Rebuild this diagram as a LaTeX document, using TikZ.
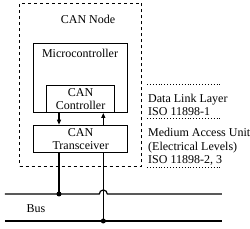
\documentclass[tikz,border=0pt]{standalone}
\usepackage{fontspec}
\setmainfont{Liberation Serif}
\usetikzlibrary{arrows.meta,positioning,calc}

\begin{document}
\begin{tikzpicture}[
    x=1pt, y=1pt,
    font=\fontsize{12}{13.5}\selectfont,
    frame/.style={
        rectangle,
        draw,
        dashed,
        line width=1.1pt,
        inner sep=0pt
    },
    box/.style={
        rectangle,
        draw,
        line width=1.3pt,
        align=center,
        inner sep=0pt
    },
    arr/.style={
        -{Triangle[length=5pt,width=4pt]},
        line width=1.2pt
    },
    bus/.style={
        line width=1.2pt
    },
    dot/.style={
        circle,
        fill,
        inner sep=0pt,
        minimum size=5pt
    },
    sep/.style={
        dotted,
        line width=0.9pt
    },
    layer/.style={
        anchor=south west,
        align=left,
        inner sep=1pt
    }
]
\useasboundingbox (0,0) rectangle (250,229);

% CAN node frame
\node[frame, minimum width=122pt, minimum height=163pt, anchor=south west] (cannode) at (19,62) {};
\node (nodelabel) at (88,210) {CAN Node};

% Microcontroller with CAN controller
\node[box, minimum width=94pt, minimum height=69pt, anchor=south west] (mcu) at (33,116) {};
\node (mculabel) at (80,176) {Microcontroller};
\node[box, minimum width=68pt, minimum height=27pt, anchor=south west] (ctrl) at (46,116) {CAN\\Controller};

% Transceiver
\node[box, minimum width=94pt, minimum height=27pt, anchor=south west] (trx) at (33,76) {CAN\\Transceiver};

% TX / RX
\coordinate (tx) at ([xshift=13pt]ctrl.south west);
\coordinate (rx) at ([xshift=-12pt]ctrl.south east);
\draw[arr] (tx) -- (tx |- trx.north);
\draw[arr] (rx |- trx.north) -- (rx);

% Bus lines
\coordinate (bushw) at (5,35);
\coordinate (bushe) at (222,35);
\coordinate (buslw) at (5,8);
\coordinate (busle) at (222,8);
\draw[bus] (bushw) -- ([xshift=-4pt]rx |- bushw) arc[start angle=180, end angle=0, radius=4pt] -- (bushe);
\draw[bus] (buslw) -- (busle);
\node (buslabel) at (36,20) {Bus};

% Taps
\draw[bus] (tx |- trx.south) -- (tx |- bushw) node[dot] (taph) {};
\draw[bus] (rx |- trx.south) -- (rx |- buslw) node[dot] (tapl) {};

% Layer labels
\draw[sep] (147,145) -- ++(73,0);
\draw[sep] (147,111) -- ++(73,0);
\draw[sep] (147,62) -- ++(73,0);
\node[layer] (dll) at (147,112) {Data Link Layer\\ISO 11898-1};
\node[layer] (mau) at (147,62) {Medium Access Unit\\(Electrical Levels)\\ISO 11898-2, 3};

\end{tikzpicture}
\end{document}
